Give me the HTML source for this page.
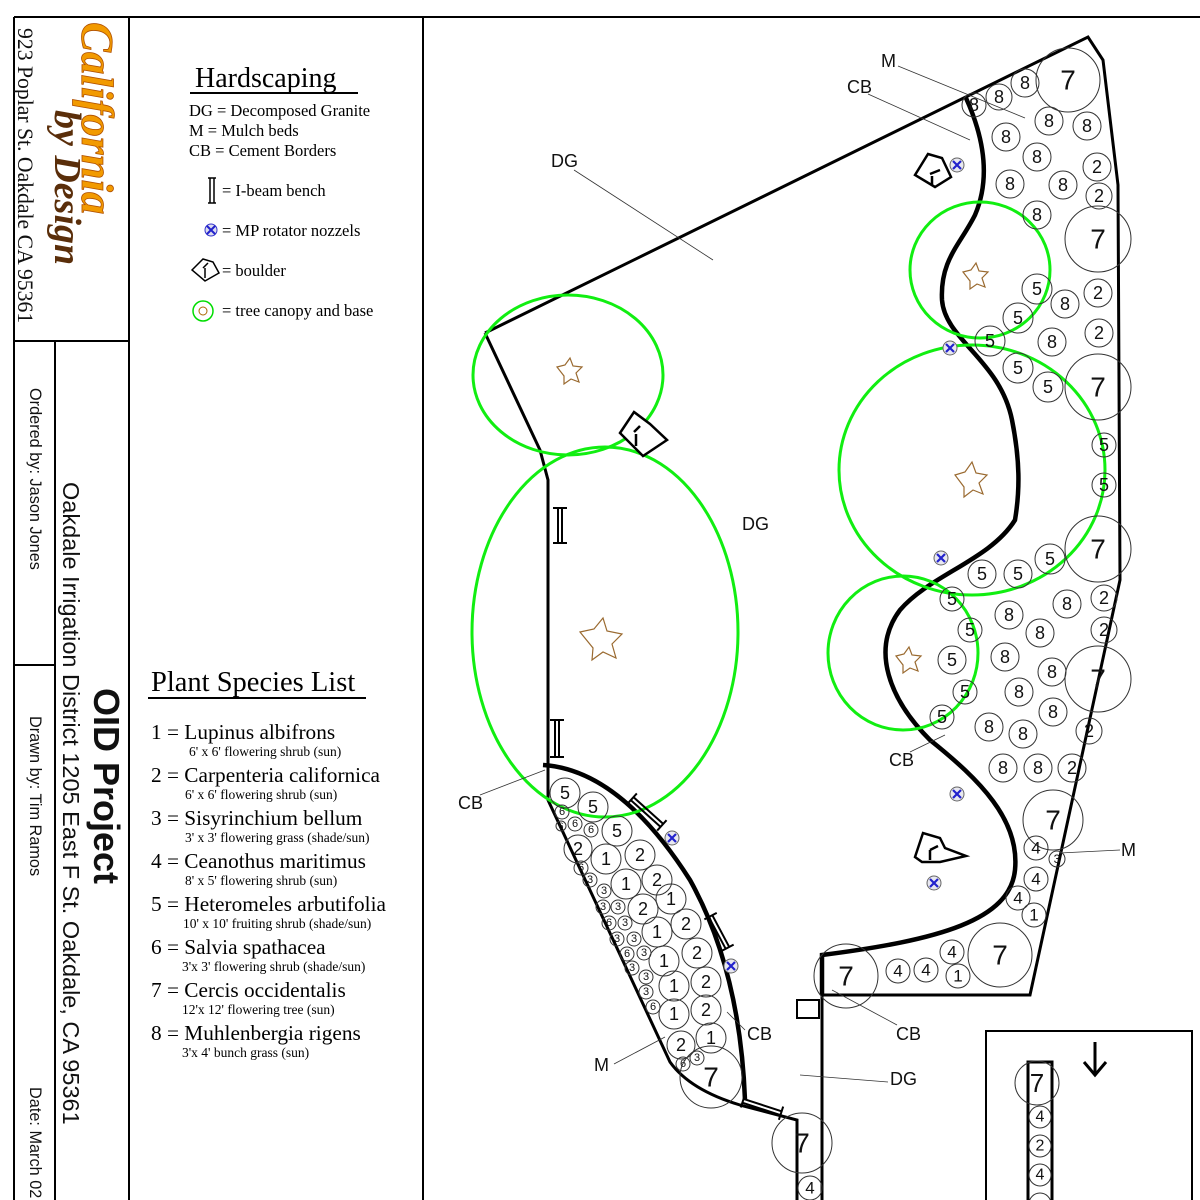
<!DOCTYPE html>
<html><head><style>
body{margin:0;background:#fff;}
svg{display:block}
text{font-family:"Liberation Serif",serif;}
.s{font-family:"Liberation Sans",sans-serif;}
.c circle{fill:none;stroke:#333;stroke-width:1}
.c text{font-family:"Liberation Sans",sans-serif;text-anchor:middle;dominant-baseline:central;fill:#111}
</style></head><body>
<svg width="1200" height="1200" viewBox="0 0 1200 1200" xmlns="http://www.w3.org/2000/svg">
<rect width="1200" height="1200" fill="#fff"/>
<g stroke="#000" stroke-width="2" fill="none">
<path d="M14,17 H1200 M14,17 V1200 M129,17 V1200 M423,17 V1200 M14,341 H129 M55,341 V1200 M14,665 H55"/>
</g>
<text transform="translate(18,28) rotate(90)" font-size="21.7" fill="#111">923 Poplar St. Oakdale CA 95361</text>
<text transform="translate(82,22) rotate(90)" font-size="45" font-weight="bold" font-style="italic" fill="#f29a00" stroke="#b05000" stroke-width="0.8">California</text>
<text transform="translate(55,110) rotate(90)" font-size="38" font-weight="bold" font-style="italic" fill="#5a2e0a">by Design</text>
<text class="s" transform="translate(30,388) rotate(90)" font-size="16.3" fill="#111">Ordered by: Jason Jones</text>
<text class="s" transform="translate(30,716) rotate(90)" font-size="16.3" fill="#111">Drawn by: Tim Ramos</text>
<text class="s" transform="translate(30,1087) rotate(90)" font-size="16.3" fill="#111">Date: March 02</text>
<text class="s" transform="translate(94,688) rotate(90)" font-size="36" font-weight="bold" fill="#111">OID Project</text>
<text class="s" transform="translate(63,482) rotate(90)" font-size="23.5" fill="#111">Oakdale Irrigation District 1205 East F St. Oakdale, CA 95361</text>

<text x="195" y="87" font-size="28">Hardscaping</text>
<line x1="190" y1="93" x2="358" y2="93" stroke="#000" stroke-width="2"/>
<g font-size="16.5">
<text x="189" y="116">DG = Decomposed Granite</text>
<text x="189" y="136">M = Mulch beds</text>
<text x="189" y="156">CB = Cement Borders</text>
<text x="222" y="196">= I-beam bench</text>
<text x="222" y="236">= MP rotator nozzels</text>
<text x="222" y="276">= boulder</text>
<text x="222" y="316">= tree canopy and base</text>
</g>
<g stroke="#000" stroke-width="1.5" fill="none"><path d="M208,178 H216 M208,203 H216 M210,178 V203 M214,178 V203"/></g>
<circle cx="211" cy="230" r="6" fill="#dde" stroke="#33c"/><path d="M207,226 L215,234 M215,226 L207,234" stroke="#22c" stroke-width="2"/>
<path d="M192,270 L203,259 L213,262 L219,273 L205,281 Z M203,268 L208,263 M205,268 V278" stroke="#000" stroke-width="1.5" fill="none"/>
<circle cx="203" cy="311" r="10" fill="none" stroke="#0d0" stroke-width="1.5"/><circle cx="203" cy="311" r="4" fill="none" stroke="#a60"/>

<text x="151" y="691" font-size="28.5">Plant Species List</text>
<line x1="148" y1="698" x2="366" y2="698" stroke="#000" stroke-width="2"/>
<g font-size="21.3">
<text x="151" y="739">1 = Lupinus albifrons</text>
<text x="151" y="782">2 = Carpenteria californica</text>
<text x="151" y="825">3 = Sisyrinchium bellum</text>
<text x="151" y="868">4 = Ceanothus maritimus</text>
<text x="151" y="911">5 = Heteromeles arbutifolia</text>
<text x="151" y="954">6 = Salvia spathacea</text>
<text x="151" y="997">7 = Cercis occidentalis</text>
<text x="151" y="1040">8 = Muhlenbergia rigens</text>
</g>
<g font-size="13.5">
<text x="189" y="756">6' x 6' flowering shrub (sun)</text>
<text x="185" y="799">6' x 6' flowering shrub (sun)</text>
<text x="185" y="842">3' x 3' flowering grass (shade/sun)</text>
<text x="185" y="885">8' x 5'  flowering shrub (sun)</text>
<text x="183" y="928">10' x 10' fruiting  shrub (shade/sun)</text>
<text x="182" y="971">3'x 3' flowering shrub (shade/sun)</text>
<text x="182" y="1014">12'x 12' flowering tree (sun)</text>
<text x="182" y="1057">3'x 4' bunch grass (sun)</text>
</g>

<path d="M485,333 L1088,37 L1103,60 L1118,185 L1120,580 L1030,995 L822,995 L822,1200" fill="none" stroke="#000" stroke-width="3"/>
<path d="M485,333 L540,450 L548,480 L548,800 L670,1062 Q690,1090 740,1105 L797,1120 L797,1200" fill="none" stroke="#000" stroke-width="3"/>
<rect x="797" y="1000" width="22" height="18" fill="none" stroke="#000" stroke-width="2"/>
<path d="M966,98 C985,140 990,180 975,215 C960,245 940,260 942,300 C945,340 1000,360 1012,420 C1020,460 1020,490 1015,520 C990,560 930,575 900,610 C870,650 890,700 930,740 C980,780 1020,820 1015,870 C1010,920 940,940 822,955 L822,995" fill="none" stroke="#000" stroke-width="4.5"/>
<path d="M543,765 Q620,770 690,880 Q740,970 745,1100" fill="none" stroke="#000" stroke-width="4.5"/>

<g fill="none" stroke="#1e1" stroke-width="3">
<ellipse cx="568" cy="375" rx="95" ry="80"/>
<ellipse cx="605" cy="632" rx="133" ry="185"/>
<ellipse cx="980" cy="270" rx="70" ry="68"/>
<ellipse cx="972" cy="470" rx="133" ry="125"/>
<ellipse cx="903" cy="653" rx="75" ry="77"/>
</g>
<g fill="none" stroke="#9a6a30" stroke-width="1.2">
<path d="M557,367 l8,-2 5,-7 3,8 9,1 -6,6 3,9 -8,-3 -7,5 0,-8z"/>
<path d="M580,632 l14,-3 9,-11 4,13 15,3 -10,10 4,14 -13,-6 -11,8 1,-12z"/>
<path d="M963,272 l8,-2 5,-7 3,8 9,1 -6,6 3,9 -8,-3 -7,5 0,-8z"/>
<path d="M955,475 l10,-3 7,-10 4,11 11,2 -8,8 4,11 -10,-4 -9,7 0,-10z"/>
<path d="M896,656 l8,-2 5,-7 3,8 9,1 -6,6 3,9 -8,-3 -7,5 0,-8z"/>
</g>

<g stroke="#000" stroke-width="2.5" fill="#fff">
<path d="M915,175 L928,154 L942,158 L951,177 L935,187 Z M930,174 L940,170 M932,176 V186"/>
<path d="M620,433 L634,412 L650,424 L667,440 L643,456 Z M634,432 L640,426 M636,434 V446"/>
<path d="M915,857 L923,833 L940,838 L945,848 L966,856 L940,862 L922,862 Z M930,850 L938,846 M930,850 V860"/>
</g>
<g>
<g transform="translate(957,165)"><circle r="7" fill="#e8e8f0" stroke="#666"/><path d="M-4,-4 L4,4 M4,-4 L-4,4" stroke="#22c" stroke-width="2.2"/></g>
<g transform="translate(950,348)"><circle r="7" fill="#e8e8f0" stroke="#666"/><path d="M-4,-4 L4,4 M4,-4 L-4,4" stroke="#22c" stroke-width="2.2"/></g>
<g transform="translate(941,558)"><circle r="7" fill="#e8e8f0" stroke="#666"/><path d="M-4,-4 L4,4 M4,-4 L-4,4" stroke="#22c" stroke-width="2.2"/></g>
<g transform="translate(957,794)"><circle r="7" fill="#e8e8f0" stroke="#666"/><path d="M-4,-4 L4,4 M4,-4 L-4,4" stroke="#22c" stroke-width="2.2"/></g>
<g transform="translate(934,883)"><circle r="7" fill="#e8e8f0" stroke="#666"/><path d="M-4,-4 L4,4 M4,-4 L-4,4" stroke="#22c" stroke-width="2.2"/></g>
<g transform="translate(672,838)"><circle r="7" fill="#e8e8f0" stroke="#666"/><path d="M-4,-4 L4,4 M4,-4 L-4,4" stroke="#22c" stroke-width="2.2"/></g>
<g transform="translate(731,966)"><circle r="7" fill="#e8e8f0" stroke="#666"/><path d="M-4,-4 L4,4 M4,-4 L-4,4" stroke="#22c" stroke-width="2.2"/></g>
</g>
<g stroke="#000" stroke-width="2" fill="none">
<path d="M553,508 H567 M553,543 H567 M558,508 V543 M562,508 V543"/>
<path d="M550,720 H564 M550,757 H564 M555,720 V757 M559,720 V757"/>
<g transform="translate(647,812) rotate(-48)"><path d="M-7,-20 H7 M-7,20 H7 M-2,-20 V20 M2,-20 V20"/></g>
<g transform="translate(719,932) rotate(-28)"><path d="M-7,-18 H7 M-7,18 H7 M-2,-18 V18 M2,-18 V18"/></g>
<g transform="translate(762,1107) rotate(-72)"><path d="M-7,-20 H7 M-7,20 H7 M-2,-20 V20 M2,-20 V20"/></g>
</g>

<g stroke="#333" stroke-width="0.8">
<line x1="898" y1="66" x2="1025" y2="118"/>
<line x1="868" y1="94" x2="970" y2="140"/>
<line x1="574" y1="170" x2="713" y2="260"/>
<line x1="480" y1="795" x2="545" y2="770"/>
<line x1="910" y1="752" x2="945" y2="735"/>
<line x1="745" y1="1030" x2="727" y2="1012"/>
<line x1="614" y1="1064" x2="665" y2="1037"/>
<line x1="897" y1="1025" x2="832" y2="990"/>
<line x1="888" y1="1082" x2="800" y2="1075"/>
<line x1="1120" y1="850" x2="1060" y2="853"/>
</g>
<g font-size="18" fill="#111">
<text class="s" x="881" y="67">M</text>
<text class="s" x="847" y="93">CB</text>
<text class="s" x="551" y="167">DG</text>
<text class="s" x="742" y="530">DG</text>
<text class="s" x="458" y="809">CB</text>
<text class="s" x="889" y="766">CB</text>
<text class="s" x="747" y="1040">CB</text>
<text class="s" x="594" y="1071">M</text>
<text class="s" x="896" y="1040">CB</text>
<text class="s" x="890" y="1085">DG</text>
<text class="s" x="1121" y="856">M</text>
</g>

<g class="c">
<circle cx="974" cy="105" r="12"/><text x="974" y="105" font-size="18">8</text>
<circle cx="999" cy="97" r="13"/><text x="999" y="97" font-size="18">8</text>
<circle cx="1025" cy="83" r="14"/><text x="1025" y="83" font-size="18">8</text>
<circle cx="1068" cy="80" r="32"/><text x="1068" y="80" font-size="28">7</text>
<circle cx="1006" cy="137" r="14"/><text x="1006" y="137" font-size="18">8</text>
<circle cx="1049" cy="121" r="14"/><text x="1049" y="121" font-size="18">8</text>
<circle cx="1087" cy="126" r="14"/><text x="1087" y="126" font-size="18">8</text>
<circle cx="1037" cy="157" r="14"/><text x="1037" y="157" font-size="18">8</text>
<circle cx="1097" cy="167" r="14"/><text x="1097" y="167" font-size="18">2</text>
<circle cx="1010" cy="184" r="14"/><text x="1010" y="184" font-size="18">8</text>
<circle cx="1063" cy="185" r="14"/><text x="1063" y="185" font-size="18">8</text>
<circle cx="1099" cy="196" r="13"/><text x="1099" y="196" font-size="18">2</text>
<circle cx="1037" cy="215" r="14"/><text x="1037" y="215" font-size="18">8</text>
<circle cx="1098" cy="239" r="33"/><text x="1098" y="239" font-size="28">7</text>
<circle cx="1037" cy="289" r="15"/><text x="1037" y="289" font-size="18">5</text>
<circle cx="1065" cy="304" r="14"/><text x="1065" y="304" font-size="18">8</text>
<circle cx="1098" cy="293" r="14"/><text x="1098" y="293" font-size="18">2</text>
<circle cx="1018" cy="318" r="15"/><text x="1018" y="318" font-size="18">5</text>
<circle cx="1099" cy="333" r="14"/><text x="1099" y="333" font-size="18">2</text>
<circle cx="990" cy="341" r="15"/><text x="990" y="341" font-size="18">5</text>
<circle cx="1052" cy="342" r="14"/><text x="1052" y="342" font-size="18">8</text>
<circle cx="1018" cy="368" r="15"/><text x="1018" y="368" font-size="18">5</text>
<circle cx="1048" cy="387" r="15"/><text x="1048" y="387" font-size="18">5</text>
<circle cx="1098" cy="387" r="33"/><text x="1098" y="387" font-size="28">7</text>
<circle cx="1104" cy="445" r="12"/><text x="1104" y="445" font-size="18">5</text>
<circle cx="1104" cy="485" r="12"/><text x="1104" y="485" font-size="18">5</text>
<circle cx="1098" cy="549" r="33"/><text x="1098" y="549" font-size="28">7</text>
<circle cx="1050" cy="559" r="15"/><text x="1050" y="559" font-size="18">5</text>
<circle cx="1018" cy="574" r="14"/><text x="1018" y="574" font-size="18">5</text>
<circle cx="982" cy="574" r="14"/><text x="982" y="574" font-size="18">5</text>
<circle cx="1104" cy="598" r="13"/><text x="1104" y="598" font-size="18">2</text>
<circle cx="1067" cy="604" r="14"/><text x="1067" y="604" font-size="18">8</text>
<circle cx="952" cy="599" r="12"/><text x="952" y="599" font-size="18">5</text>
<circle cx="1009" cy="615" r="14"/><text x="1009" y="615" font-size="18">8</text>
<circle cx="1104" cy="630" r="13"/><text x="1104" y="630" font-size="18">2</text>
<circle cx="1040" cy="633" r="14"/><text x="1040" y="633" font-size="18">8</text>
<circle cx="970" cy="630" r="12"/><text x="970" y="630" font-size="18">5</text>
<circle cx="1005" cy="657" r="14"/><text x="1005" y="657" font-size="18">8</text>
<circle cx="952" cy="660" r="14"/><text x="952" y="660" font-size="18">5</text>
<circle cx="1052" cy="672" r="14"/><text x="1052" y="672" font-size="18">8</text>
<circle cx="1098" cy="679" r="33"/><text x="1098" y="679" font-size="28">7</text>
<circle cx="965" cy="692" r="12"/><text x="965" y="692" font-size="18">5</text>
<circle cx="1019" cy="692" r="14"/><text x="1019" y="692" font-size="18">8</text>
<circle cx="1053" cy="712" r="14"/><text x="1053" y="712" font-size="18">8</text>
<circle cx="942" cy="717" r="12"/><text x="942" y="717" font-size="18">5</text>
<circle cx="989" cy="727" r="14"/><text x="989" y="727" font-size="18">8</text>
<circle cx="1023" cy="734" r="14"/><text x="1023" y="734" font-size="18">8</text>
<circle cx="1089" cy="731" r="13"/><text x="1089" y="731" font-size="18">2</text>
<circle cx="1003" cy="768" r="14"/><text x="1003" y="768" font-size="18">8</text>
<circle cx="1038" cy="768" r="14"/><text x="1038" y="768" font-size="18">8</text>
<circle cx="1072" cy="768" r="14"/><text x="1072" y="768" font-size="18">2</text>
<circle cx="1053" cy="820" r="30"/><text x="1053" y="820" font-size="28">7</text>
<circle cx="1036" cy="848" r="12"/><text x="1036" y="848" font-size="17">4</text>
<circle cx="1057" cy="859" r="8"/><text x="1057" y="859" font-size="12">3</text>
<circle cx="1036" cy="879" r="12"/><text x="1036" y="879" font-size="17">4</text>
<circle cx="1018" cy="898" r="12"/><text x="1018" y="898" font-size="17">4</text>
<circle cx="1034" cy="915" r="12"/><text x="1034" y="915" font-size="17">1</text>
<circle cx="1000" cy="955" r="32"/><text x="1000" y="955" font-size="28">7</text>
<circle cx="952" cy="952" r="12"/><text x="952" y="952" font-size="17">4</text>
<circle cx="926" cy="970" r="12"/><text x="926" y="970" font-size="17">4</text>
<circle cx="898" cy="971" r="12"/><text x="898" y="971" font-size="17">4</text>
<circle cx="958" cy="976" r="12"/><text x="958" y="976" font-size="17">1</text>
<circle cx="846" cy="976" r="32"/><text x="846" y="976" font-size="28">7</text>
<circle cx="802" cy="1143" r="30"/><text x="802" y="1143" font-size="28">7</text>
<circle cx="810" cy="1188" r="12"/><text x="810" y="1188" font-size="17">4</text>

<circle cx="565" cy="793" r="15"/><text x="565" y="793" font-size="18">5</text>
<circle cx="593" cy="807" r="15"/><text x="593" y="807" font-size="18">5</text>
<circle cx="562" cy="812" r="7"/><text x="562" y="812" font-size="11">6</text>
<circle cx="575" cy="824" r="7"/><text x="575" y="824" font-size="11">6</text>
<circle cx="591" cy="830" r="7"/><text x="591" y="830" font-size="11">6</text>
<circle cx="561" cy="826" r="5"/><text x="561" y="826" font-size="9">6</text>
<circle cx="617" cy="831" r="15"/><text x="617" y="831" font-size="18">5</text>
<circle cx="578" cy="849" r="14"/><text x="578" y="849" font-size="18">2</text>
<circle cx="606" cy="859" r="15"/><text x="606" y="859" font-size="18">1</text>
<circle cx="640" cy="855" r="15"/><text x="640" y="855" font-size="18">2</text>
<circle cx="581" cy="868" r="7"/><text x="581" y="868" font-size="11">6</text>
<circle cx="590" cy="880" r="7"/><text x="590" y="880" font-size="11">3</text>
<circle cx="604" cy="891" r="7"/><text x="604" y="891" font-size="11">3</text>
<circle cx="626" cy="884" r="15"/><text x="626" y="884" font-size="18">1</text>
<circle cx="657" cy="880" r="15"/><text x="657" y="880" font-size="18">2</text>
<circle cx="603" cy="907" r="7"/><text x="603" y="907" font-size="11">3</text>
<circle cx="618" cy="907" r="7"/><text x="618" y="907" font-size="11">3</text>
<circle cx="643" cy="909" r="15"/><text x="643" y="909" font-size="18">2</text>
<circle cx="671" cy="899" r="15"/><text x="671" y="899" font-size="18">1</text>
<circle cx="609" cy="923" r="7"/><text x="609" y="923" font-size="11">6</text>
<circle cx="625" cy="923" r="7"/><text x="625" y="923" font-size="11">3</text>
<circle cx="617" cy="939" r="7"/><text x="617" y="939" font-size="11">3</text>
<circle cx="634" cy="939" r="7"/><text x="634" y="939" font-size="11">3</text>
<circle cx="657" cy="932" r="15"/><text x="657" y="932" font-size="18">1</text>
<circle cx="686" cy="924" r="15"/><text x="686" y="924" font-size="18">2</text>
<circle cx="627" cy="954" r="7"/><text x="627" y="954" font-size="11">6</text>
<circle cx="644" cy="953" r="7"/><text x="644" y="953" font-size="11">3</text>
<circle cx="664" cy="961" r="15"/><text x="664" y="961" font-size="18">1</text>
<circle cx="697" cy="953" r="15"/><text x="697" y="953" font-size="18">2</text>
<circle cx="632" cy="968" r="7"/><text x="632" y="968" font-size="11">3</text>
<circle cx="646" cy="977" r="7"/><text x="646" y="977" font-size="11">3</text>
<circle cx="674" cy="986" r="15"/><text x="674" y="986" font-size="18">1</text>
<circle cx="706" cy="982" r="15"/><text x="706" y="982" font-size="18">2</text>
<circle cx="646" cy="992" r="7"/><text x="646" y="992" font-size="11">3</text>
<circle cx="653" cy="1007" r="7"/><text x="653" y="1007" font-size="11">6</text>
<circle cx="674" cy="1014" r="15"/><text x="674" y="1014" font-size="18">1</text>
<circle cx="706" cy="1010" r="15"/><text x="706" y="1010" font-size="18">2</text>
<circle cx="711" cy="1038" r="15"/><text x="711" y="1038" font-size="18">1</text>
<circle cx="681" cy="1045" r="14"/><text x="681" y="1045" font-size="18">2</text>
<circle cx="683" cy="1064" r="7"/><text x="683" y="1064" font-size="11">6</text>
<circle cx="697" cy="1058" r="7"/><text x="697" y="1058" font-size="11">3</text>
<circle cx="711" cy="1077" r="31"/><text x="711" y="1077" font-size="28">7</text>
</g>

<path d="M986,1200 V1031 H1192 V1200" fill="none" stroke="#000" stroke-width="2"/>
<rect x="1028" y="1062" width="24" height="140" fill="none" stroke="#000" stroke-width="3"/>
<g class="c">
<circle cx="1037" cy="1083" r="22"/><text x="1037" y="1083" font-size="26">7</text>
<circle cx="1040" cy="1117" r="11"/><text x="1040" y="1117" font-size="16">4</text>
<circle cx="1040" cy="1146" r="11"/><text x="1040" y="1146" font-size="16">2</text>
<circle cx="1040" cy="1175" r="11"/><text x="1040" y="1175" font-size="16">4</text>
<circle cx="1040" cy="1204" r="11"/>
</g>
<path d="M1095,1042 V1074 M1084,1062 L1095,1075 L1106,1062" fill="none" stroke="#000" stroke-width="3"/>
</svg>
</body></html>
